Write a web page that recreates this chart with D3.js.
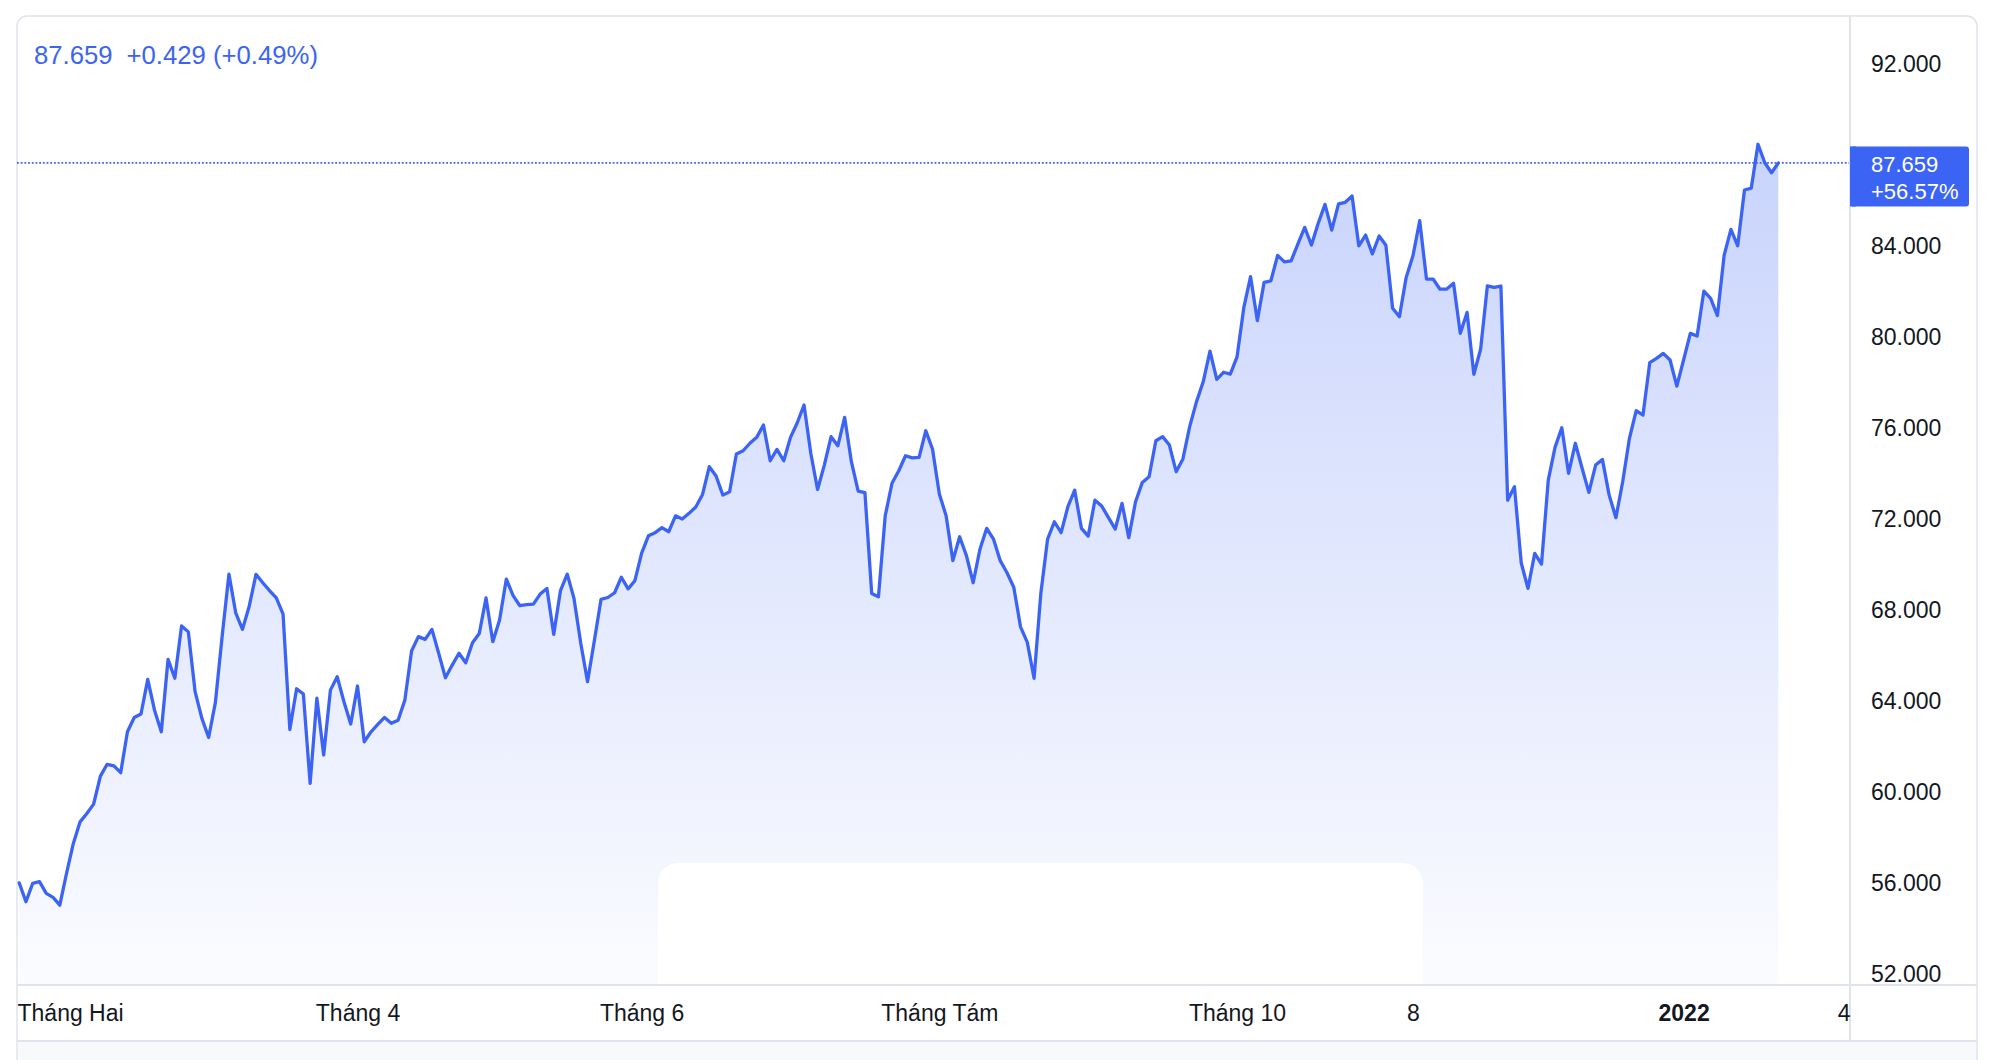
<!DOCTYPE html>
<html><head><meta charset="utf-8">
<script src="https://cdn.jsdelivr.net/npm/d3@7"></script>
<style>
html,body{margin:0;padding:0;background:#fff;}
svg{display:block;font-family:'Liberation Sans',Arial,sans-serif;}
</style>
</head><body>
<svg id="chart" width="1996" height="1060"></svg>
<script>
// ---- data ----
const values = [
56.02,55.19,56.00,56.07,55.56,55.38,55.04,56.44,57.75,58.70,
59.07,59.48,60.71,61.23,61.16,60.86,62.66,63.29,63.44,64.96,
63.61,62.66,65.84,65.01,67.31,67.05,64.42,63.25,62.41,63.95,
66.87,69.59,67.89,67.16,68.18,69.58,69.21,68.86,68.54,67.83,
62.76,64.55,64.32,60.39,64.14,61.64,64.49,65.08,63.98,63.00,
64.67,62.22,62.66,62.98,63.29,63.03,63.17,64.05,66.22,66.84,
66.72,67.16,66.11,65.03,65.59,66.11,65.69,66.57,66.98,68.54,
66.62,67.57,69.37,68.64,68.20,68.25,68.27,68.71,68.96,66.94,
68.86,69.59,68.52,66.55,64.86,66.65,68.48,68.56,68.77,69.45,
68.94,69.30,70.51,71.27,71.41,71.63,71.45,72.15,72.01,72.26,
72.54,73.09,74.31,73.90,73.06,73.21,74.87,75.01,75.34,75.60,
76.14,74.57,75.07,74.57,75.60,76.24,77.02,74.90,73.31,74.38,
75.63,75.23,76.48,74.53,73.24,73.17,68.74,68.59,72.15,73.58,
74.13,74.79,74.70,74.72,75.89,75.07,73.11,72.15,70.18,71.23,
70.40,69.21,70.68,71.60,71.13,70.18,69.65,69.01,67.27,66.59,
65.01,68.74,71.13,71.89,71.41,72.55,73.28,71.60,71.26,72.84,
72.58,72.07,71.57,72.70,71.19,72.77,73.62,73.87,75.45,75.63,
75.26,74.09,74.65,76.07,77.16,78.04,79.39,78.15,78.46,78.38,
79.14,81.30,82.66,80.73,82.41,82.48,83.60,83.31,83.36,84.10,
84.83,84.05,85.01,85.84,84.71,85.86,85.93,86.21,84.02,84.49,
83.66,84.45,84.04,81.27,80.90,82.63,83.58,85.12,82.56,82.55,
82.11,82.12,82.37,80.17,81.09,78.37,79.47,82.26,82.19,82.25,
72.84,73.43,70.09,68.96,70.50,70.03,73.72,75.16,76.02,74.02,
75.34,74.24,73.18,74.38,74.63,73.06,72.07,73.65,75.56,76.77,
76.58,78.88,79.07,79.29,79.00,77.85,79.00,80.17,80.05,82.03,
81.71,80.95,83.61,84.74,84.02,86.47,86.55,88.48,87.67,87.23,
87.659
];
const xTickIndex  = [0, 50, 92, 136, 180, 206, 246, 270];
const xTickLabels = ["Tháng Hai","Tháng 4","Tháng 6","Tháng Tám","Tháng 10","8","2022","4"];
const xTickBold   = ["2022"];
const yTickValues = [52,56,60,64,68,72,76,80,84,88,92];
const lastPrice   = "87.659";
const dayChange   = "+0.429 (+0.49%)";
const totalChange = "+56.57%";

// ---- layout ----
const W = 1996, H = 1060;
const frameL = 17, frameT = 16, frameR = 1977;
const plotR = 1850, plotB = 985, axisB = 1041;
const blue = "#3c64f4";
const textCol = "#131722";
const lineCol = "#e0e3eb";

const svg = d3.select("#chart");
const x = d3.scaleLinear().domain([0, values.length - 1]).range([19.2, 1778.3]);
const y = d3.scaleLinear().domain([52, 92]).range([974.3, 64.2]);

const defs = svg.append("defs");
const grad = defs.append("linearGradient").attr("id","areaGrad")
  .attr("gradientUnits","userSpaceOnUse")
  .attr("x1",0).attr("x2",0).attr("y1", y(d3.max(values))).attr("y2", plotB);
grad.append("stop").attr("offset","0%").attr("stop-color",blue).attr("stop-opacity",0.28);
grad.append("stop").attr("offset","100%").attr("stop-color",blue).attr("stop-opacity",0.02);
defs.append("clipPath").attr("id","plotClip").append("rect")
  .attr("x",frameL).attr("y",frameT).attr("width",plotR-frameL).attr("height",plotB-frameT);

// frame
svg.append("rect").attr("x",frameL).attr("y",frameT).attr("width",frameR-frameL).attr("height",1200)
  .attr("rx",10).attr("fill","#fff").attr("stroke",lineCol).attr("stroke-width",1.5);
svg.append("rect").attr("x",frameL+1).attr("y",axisB+1).attr("width",frameR-frameL-2).attr("height",H-axisB)
  .attr("fill","#f8f9fb");

const plot = svg.append("g").attr("clip-path","url(#plotClip)");

// area
const area = d3.area().x((d,i)=>x(i)).y0(plotB).y1(d=>y(d));
plot.append("path").datum(values).attr("d",area).attr("fill","url(#areaGrad)");

// white rounded overlay near bottom
plot.append("rect").attr("x",658).attr("y",863).attr("width",765).attr("height",160)
  .attr("rx",20).attr("fill","#fff");

// line
const line = d3.line().x((d,i)=>x(i)).y(d=>y(d));
plot.append("path").datum(values).attr("d",line).attr("fill","none")
  .attr("stroke",blue).attr("stroke-width",3.3).attr("stroke-linejoin","round").attr("stroke-linecap","round");

// last price dotted line
const lastV = values[values.length-1];
svg.append("line").attr("x1",frameL).attr("x2",plotR).attr("y1",y(lastV)).attr("y2",y(lastV))
  .attr("stroke",blue).attr("stroke-width",1.7).attr("stroke-dasharray","1.8 1.9");

// separators
svg.append("line").attr("x1",frameL).attr("x2",frameR).attr("y1",plotB).attr("y2",plotB).attr("stroke",lineCol).attr("stroke-width",2);
svg.append("line").attr("x1",frameL).attr("x2",frameR).attr("y1",axisB).attr("y2",axisB).attr("stroke",lineCol).attr("stroke-width",2);
svg.append("line").attr("x1",plotR).attr("x2",plotR).attr("y1",frameT).attr("y2",axisB).attr("stroke",lineCol).attr("stroke-width",2);

// y axis
const yAxis = svg.append("g").attr("transform",`translate(1871,0)`)
  .call(d3.axisRight(y).tickValues(yTickValues).tickSize(0).tickPadding(0).tickFormat(d3.format(".3f")));
yAxis.select(".domain").remove();
yAxis.selectAll("text").attr("font-size",23).attr("fill",textCol)
  .attr("font-family","'Liberation Sans',Arial,sans-serif");
// hide the 88 tick label covered by the price label (as in the reference)
yAxis.selectAll(".tick").filter(d => d === 88).remove();

// price label
const ly = y(lastV);
svg.append("rect").attr("x",plotR).attr("y",ly-16.5).attr("width",119).attr("height",60).attr("rx",3).attr("fill",blue);
svg.append("rect").attr("x",plotR).attr("y",ly-16.5).attr("width",6).attr("height",60).attr("fill",blue);
svg.append("text").attr("x",1871).attr("y",ly+9).attr("font-size",22).attr("fill","#fff").text(lastPrice);
svg.append("text").attr("x",1871).attr("y",ly+36.5).attr("font-size",22).attr("fill","#fff").text(totalChange);

// x axis
const xAxis = svg.append("g").attr("transform",`translate(0,${plotB})`)
  .call(d3.axisBottom(x).tickValues(xTickIndex).tickSize(0).tickPadding(19.7)
    .tickFormat((d,i)=>xTickLabels[i]));
xAxis.select(".domain").remove();
xAxis.selectAll("text").attr("font-size",23).attr("fill",textCol)
  .attr("font-family","'Liberation Sans',Arial,sans-serif")
  .attr("font-weight",(d,i)=>xTickBold.includes(xTickLabels[i]) ? "bold" : "normal");
xAxis.selectAll(".tick").each(function(d){
  const t = d3.select(this).select("text");
  const w = t.node().getComputedTextLength();
  const cx = x(d);
  let shift = 0;
  if (cx - w/2 < frameL) shift = frameL - (cx - w/2);
  if (cx + w/2 > plotR) shift = plotR - (cx + w/2);
  t.attr("x", shift);
});

// header
const h1 = svg.append("text").attr("x",34).attr("y",64).attr("font-size",25.7).attr("fill",blue).text(lastPrice);
const w1 = h1.node().getComputedTextLength();
svg.append("text").attr("x",34 + w1 + 14).attr("y",64).attr("font-size",25.7).attr("fill",blue).text(dayChange);
</script>
</body></html>
